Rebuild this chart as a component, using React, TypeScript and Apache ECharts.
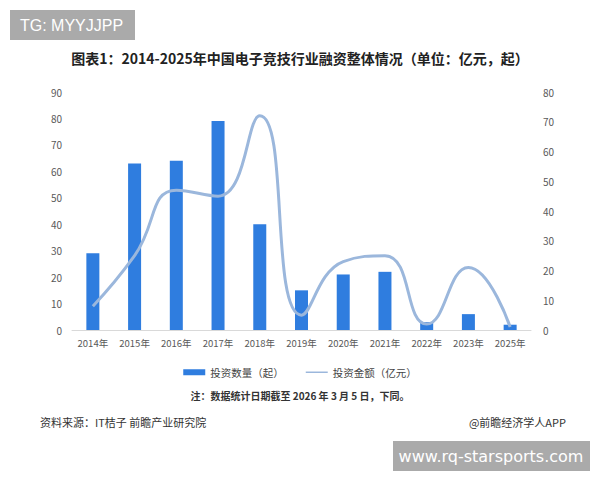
import React, { useEffect, useRef } from "react";
import * as echarts from "echarts";

const categories = ["2014年", "2015年", "2016年", "2017年", "2018年", "2019年", "2020年", "2021年", "2022年", "2023年", "2025年"];
const countValues = [29, 63, 64, 79, 40, 15, 21, 22, 3, 6, 2];
const amountValues = [8, 25, 47, 45, 72, 5, 23, 25, 2, 21, 1];
const leftTicks = { min: 0, max: 90, interval: 10 };
const rightTicks = { min: 0, max: 80, interval: 10 };

const FONT = "'Noto Sans CJK SC', 'Noto Sans', sans-serif";

export default function App() {
  const ref = useRef<HTMLDivElement>(null);
  useEffect(() => {
    if (!ref.current) return;
    const chart = echarts.init(ref.current, undefined, { renderer: "svg" });
    chart.setOption({
      animation: false,
      backgroundColor: "#ffffff",
      textStyle: { fontFamily: FONT },
      title: {
        text: "图表1：2014-2025年中国电子竞技行业融资整体情况（单位：亿元，起）",
        left: "center",
        top: 46,
        textStyle: { fontSize: 14, fontWeight: "bold", color: "#222", fontFamily: FONT },
      },
      grid: { left: 72, right: 69, top: 92, bottom: 150 },
      legend: {
        top: 362,
        left: "center",
        itemGap: 22,
        itemWidth: 22,
        itemHeight: 6,
        textStyle: { fontSize: 10.5, color: "#444", fontFamily: FONT },
        data: [
          { name: "投资数量（起）", icon: "rect" },
          { name: "投资金额（亿元）", icon: "path://M0,0H30V2H0Z", itemStyle: { color: "#9bb7dc" } },
        ],
      },
      xAxis: {
        type: "category",
        data: categories,
        axisLine: { lineStyle: { color: "#d9d9d9" } },
        axisTick: { show: false },
        axisLabel: { color: "#595959", fontSize: 9.5, margin: 8, interval: 0, fontFamily: FONT },
      },
      yAxis: [
        {
          type: "value",
          ...leftTicks,
          splitLine: { show: false },
          axisLine: { show: false },
          axisTick: { show: false },
          axisLabel: { color: "#595959", fontSize: 10, margin: 10 },
        },
        {
          type: "value",
          ...rightTicks,
          splitLine: { show: false },
          axisLine: { show: false },
          axisTick: { show: false },
          axisLabel: { color: "#595959", fontSize: 10, margin: 12 },
        },
      ],
      series: [
        {
          name: "投资数量（起）",
          type: "bar",
          data: countValues,
          barWidth: 13,
          itemStyle: { color: "#2f7ddf" },
        },
        {
          name: "投资金额（亿元）",
          type: "line",
          yAxisIndex: 1,
          data: amountValues,
          smooth: 0.5,
          symbol: "none",
          lineStyle: { color: "#9bb7dc", width: 3 },
          itemStyle: { color: "#9bb7dc" },
        },
      ],
      graphic: [
        { type: "rect", shape: { x: 10, y: 10, width: 125, height: 30 }, style: { fill: "#aaaaaa" } },
        { type: "text", x: 20, y: 25, style: { text: "TG: MYYJJPP", fill: "#ffffff", font: "16px 'Liberation Sans', Arial, sans-serif", textVerticalAlign: "middle" } },
        { type: "text", x: 300, y: 395, style: { text: "注：数据统计日期截至 2026 年 3 月 5 日，下同。", fill: "#333", font: "bold 10px " + FONT, textAlign: "center", textVerticalAlign: "middle" } },
        { type: "text", x: 40, y: 422, style: { text: "资料来源：IT桔子 前瞻产业研究院", fill: "#333", font: "11px " + FONT, textVerticalAlign: "middle" } },
        { type: "text", x: 566, y: 422, style: { text: "@前瞻经济学人APP", fill: "#333", font: "11px " + FONT, textAlign: "right", textVerticalAlign: "middle" } },
        { type: "rect", shape: { x: 393, y: 441, width: 197, height: 30 }, style: { fill: "#aaaaaa" } },
        { type: "text", x: 491, y: 456, style: { text: "www.rq-starsports.com", fill: "#ffffff", font: "16px 'DejaVu Sans', sans-serif", textAlign: "center", textVerticalAlign: "middle" } },
      ],
    });
    return () => chart.dispose();
  }, []);
  return <div ref={ref} style={{ width: 600, height: 480, position: "absolute", left: 0, top: 0 }} />;
}
